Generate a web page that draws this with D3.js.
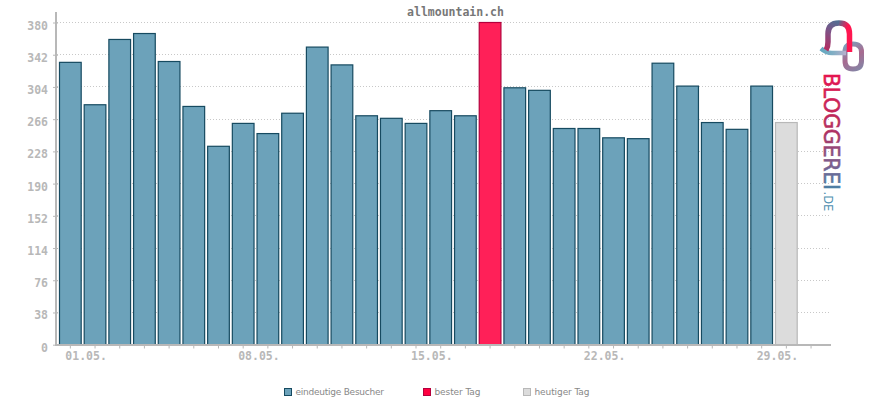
<!DOCTYPE html>
<html>
<head>
<meta charset="utf-8">
<script src="https://d3js.org/d3.v7.min.js"></script>
<style>
  html, body { margin: 0; padding: 0; background: #fff; }
  svg { display: block; }
  text { font-family: "DejaVu Sans Mono", monospace; }
</style>
</head>
<body>
<svg id="chart" width="870" height="400"></svg>
<script>
// values
var days = ["01.05.","02.05.","03.05.","04.05.","05.05.","06.05.","07.05.","08.05.","09.05.","10.05.",
            "11.05.","12.05.","13.05.","14.05.","15.05.","16.05.","17.05.","18.05.","19.05.","20.05.",
            "21.05.","22.05.","23.05.","24.05.","25.05.","26.05.","27.05.","28.05.","29.05.","30.05.","31.05."];
var visitors = [333,283,360,367,334,281,234,261,249,273,351,330,270,267,261,276,270,380,303,300,
                255,255,244,243,332,305,262,254,305,262];
var yTicks = [0,38,76,114,152,190,228,266,304,342,380];
var labelledDays = ["01.05.","08.05.","15.05.","22.05.","29.05."];
var bestDay = "18.05.";
var today = "30.05.";
var legendNames = ["eindeutige Besucher","bester Tag","heutiger Tag"];
var chartTitle = "allmountain.ch";

var colors = {
  bar: "#6ca2ba", barLine: "#164a60",
  best: "#ff2058", bestLine: "#b4003c",
  today: "#dcdcdc", todayLine: "#b8b8b8",
  axis: "#b8b8b8", grid: "#c8c8c8"
};

var svg = d3.select("#chart");

var x = d3.scaleBand().domain(days).range([58, 823.4]);
var y = d3.scaleLinear().domain([0, 380]).range([344.7, 22.5]);

// grid
svg.append("g").selectAll("line")
  .data(yTicks.filter(function(d) { return d > 0; }))
  .enter().append("line")
  .attr("x1", 57).attr("x2", 830)
  .attr("y1", function(d) { return Math.floor(y(d)) + 0.5; })
  .attr("y2", function(d) { return Math.floor(y(d)) + 0.5; })
  .attr("stroke", colors.grid)
  .attr("stroke-dasharray", "1,2");

// bars
svg.append("g").selectAll("rect")
  .data(visitors)
  .enter().append("rect")
  .attr("x", function(d, i) { return x(days[i]) + 1.5; })
  .attr("width", x.bandwidth() - 3)
  .attr("y", function(d) { return y(d); })
  .attr("height", function(d) { return y(0) - y(d); })
  .attr("fill", function(d, i) {
    if (days[i] === bestDay) return colors.best;
    if (days[i] === today) return colors.today;
    return colors.bar;
  })
  .attr("stroke", function(d, i) {
    if (days[i] === bestDay) return colors.bestLine;
    if (days[i] === today) return colors.todayLine;
    return colors.barLine;
  })
  .attr("stroke-width", 1.2);

// y axis
var yAxis = svg.append("g")
  .attr("transform", "translate(56,0)")
  .call(d3.axisLeft(y).tickValues(yTicks).tickSize(3).tickPadding(5));
yAxis.select(".domain").remove();
yAxis.selectAll("line").attr("stroke", colors.axis).attr("x2", 2).attr("x1", -3);
yAxis.selectAll("text")
  .attr("fill", colors.axis)
  .attr("dy", "6.5px")
  .style("font-family", '"DejaVu Sans Mono", monospace')
  .style("font-weight", "bold")
  .style("font-size", "11.5px");
svg.append("line")
  .attr("x1", 56).attr("x2", 56).attr("y1", 12).attr("y2", 346)
  .attr("stroke", colors.axis).attr("stroke-width", 2);

// x axis
var xAxis = svg.append("g")
  .attr("transform", "translate(0,345)")
  .call(d3.axisBottom(x)
    .tickFormat(function(d) { return labelledDays.indexOf(d) >= 0 ? d : ""; })
    .tickSize(3.5).tickPadding(3.5));
xAxis.select(".domain").remove();
xAxis.selectAll("line").attr("stroke", colors.axis);
xAxis.selectAll("text")
  .attr("fill", colors.axis)
  .attr("text-anchor", "start")
  .attr("x", -5)
  .style("font-family", '"DejaVu Sans Mono", monospace')
  .style("font-weight", "bold")
  .style("font-size", "11.5px");
svg.append("line")
  .attr("x1", 55).attr("x2", 831).attr("y1", 345).attr("y2", 345)
  .attr("stroke", colors.axis).attr("stroke-width", 2);

// title
svg.append("text")
  .attr("x", 455.5).attr("y", 15.5)
  .attr("text-anchor", "middle")
  .attr("fill", "#777")
  .style("font-weight", "bold")
  .style("font-size", "11.5px")
  .text(chartTitle);

// legend
var legendX = [284, 423, 523];
var legendWidth = [88.5, 46, 55];
var legendFill = [colors.bar, "#ff0040", colors.today];
var legendLine = [colors.barLine, "#b4003c", colors.todayLine];
var legend = svg.append("g").selectAll("g")
  .data(legendNames)
  .enter().append("g")
  .attr("transform", function(d, i) { return "translate(" + legendX[i] + ",388)"; });
legend.append("rect")
  .attr("x", 0.5).attr("y", 0.5).attr("width", 7).attr("height", 7)
  .attr("fill", function(d, i) { return legendFill[i]; })
  .attr("stroke", function(d, i) { return legendLine[i]; });
legend.append("text")
  .attr("x", 11.5).attr("y", 7)
  .attr("fill", "#888")
  .attr("textLength", function(d, i) { return legendWidth[i]; })
  .style("font-family", '"DejaVu Sans", sans-serif')
  .style("font-size", "9px")
  .text(function(d) { return d; });

// logo
var defs = svg.append("defs");
function gradient(id, x1, y1, x2, y2, stops) {
  var g = defs.append("linearGradient").attr("id", id)
    .attr("gradientUnits", "userSpaceOnUse")
    .attr("x1", x1).attr("y1", y1).attr("x2", x2).attr("y2", y2);
  stops.forEach(function(s) {
    g.append("stop").attr("offset", s[0]).attr("stop-color", s[1]);
  });
}
gradient("bubbleLeft", 826, 50, 839, 21, [[0, "#b52c60"], [0.6, "#7c5488"], [1, "#4f6f92"]]);
gradient("bubbleRight", 838, 22, 848, 26, [[0, "#4f6f92"], [1, "#ff1650"]]);
gradient("tail", 821, 50, 845, 54, [[0, "#62a8c0"], [0.5, "#80aec4"], [1, "#b4b0cc"]]);
gradient("ring", 845, 42, 862, 71, [[0, "#74aac2"], [0.5, "#a86a90"], [1, "#7f88a8"]]);
gradient("word", 0, 0, 116, 0, [[0, "#e6144f"], [0.5, "#b03060"], [0.8, "#7a5f90"], [1, "#4a80a5"]]);

svg.append("path")
  .attr("d", "M845,52 Q845,44 853,44 Q861.5,44 861.5,52 L861.5,61 Q861.5,69 853,69 Q845,69 845,61 Z")
  .attr("fill", "none").attr("stroke", "url(#ring)").attr("stroke-width", 5);
svg.append("path")
  .attr("d", "M821,48.5 Q826,53 832,53 L846,53")
  .attr("fill", "none").attr("stroke", "url(#tail)").attr("stroke-width", 4.5);
svg.append("path")
  .attr("d", "M826,50 Q828,47 828,42 L828,34 Q828,23 839,23")
  .attr("fill", "none").attr("stroke", "url(#bubbleLeft)").attr("stroke-width", 5.5);
svg.append("path")
  .attr("d", "M839,23 Q849.5,23 849.5,34 L849.5,52")
  .attr("fill", "none").attr("stroke", "url(#bubbleRight)").attr("stroke-width", 5.5);

svg.append("text")
  .attr("transform", "translate(824.3,73) rotate(90)")
  .attr("fill", "url(#word)")
  .attr("stroke", "url(#word)")
  .attr("stroke-width", 0.6)
  .attr("textLength", 117)
  .style("font-family", '"DejaVu Sans", sans-serif')
  .style("font-size", "20.5px")
  .text("BLOGGEREI");
svg.append("text")
  .attr("transform", "translate(824.3,191.5) rotate(90)")
  .attr("fill", "#4f8fb0")
  .style("font-family", '"DejaVu Sans", sans-serif')
  .style("font-size", "11.5px")
  .text(".DE");
</script>
</body>
</html>
